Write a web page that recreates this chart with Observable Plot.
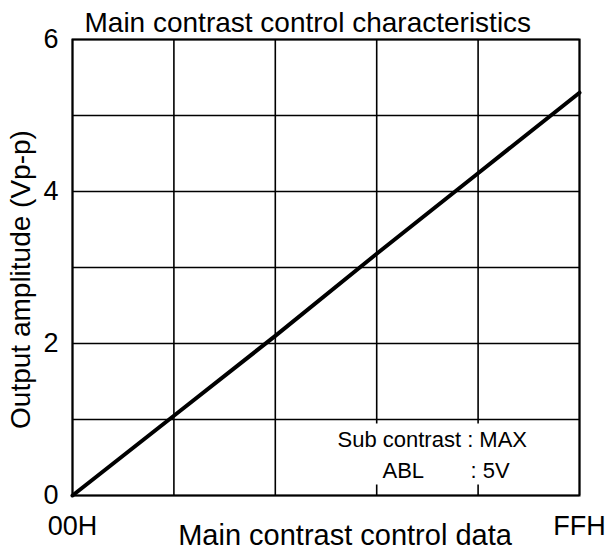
<!DOCTYPE html>
<html>
<head>
<meta charset="utf-8">
<script src="https://cdn.jsdelivr.net/npm/d3@7"></script>
<script src="https://cdn.jsdelivr.net/npm/@observablehq/plot@0.6"></script>
<style>
  html, body { margin: 0; padding: 0; background: white; }
</style>
</head>
<body>
<div id="chart"></div>
<script>
// ---- data ----
const controlData = [0, 51, 102, 153, 204, 255];          // 00H .. FFH
const outputAmplitude = [0, 1.05, 2.1, 3.18, 4.24, 5.3];  // Vp-p
const xGridValues = [0, 51, 102, 153, 204, 255];
const xTickValues = [0, 255];
const xTickLabels = ["00H", "FFH"];
const yGridValues = [0, 1, 2, 3, 4, 5, 6];
const yTickValues = [0, 2, 4, 6];
const titleText = "Main contrast control characteristics";
const xLabelText = "Main contrast control data";
const yLabelText = "Output amplitude (Vp-p)";
const noteLine1 = ["Sub contrast : MAX"];
const noteLine2Key = ["ABL"];
const noteLine2Value = [": 5V"];

const points = controlData.map((x, i) => ({x, y: outputAmplitude[i]}));

const FONT = 27;
const chart = Plot.plot({
  width: 612,
  height: 550,
  marginLeft: 72,
  marginRight: 33,
  marginTop: 39,
  marginBottom: 55,
  style: {fontFamily: "'Liberation Sans', Arial, sans-serif", fontSize: FONT + "px", background: "white", color: "black"},
  x: {domain: [0, 255]},
  y: {domain: [0, 6]},
  marks: [
    Plot.gridX(xGridValues, {stroke: "black", strokeOpacity: 1, strokeWidth: 1.6}),
    Plot.gridY(yGridValues, {stroke: "black", strokeOpacity: 1, strokeWidth: 1.6}),
    Plot.axisX({ticks: xTickValues, tickSize: 0, tickPadding: 20, fontSize: FONT,
      tickFormat: (d) => xTickLabels[xTickValues.indexOf(d)], label: null}),
    Plot.axisY({ticks: yTickValues, tickSize: 0, tickPadding: 14, fontSize: FONT,
      tickFormat: d3.format("d"), label: null}),
    // white box behind the annotation (inset of the frame)
    Plot.frame({fill: "white", stroke: null, insetLeft: 261, insetRight: 39, insetTop: 384, insetBottom: 11}),
    Plot.text(noteLine1, {frameAnchor: "bottom-left", text: (d) => d, textAnchor: "start",
      lineAnchor: "bottom", dx: 265, dy: -49, fontSize: 22, fill: "black"}),
    Plot.text(noteLine2Key, {frameAnchor: "bottom-left", text: (d) => d, textAnchor: "start",
      lineAnchor: "bottom", dx: 310, dy: -18, fontSize: 22, fill: "black"}),
    Plot.text(noteLine2Value, {frameAnchor: "bottom-left", text: (d) => d, textAnchor: "start",
      lineAnchor: "bottom", dx: 398, dy: -18, fontSize: 22, fill: "black"}),
    Plot.frame({stroke: "black", strokeWidth: 2}),
    Plot.line(points, {x: "x", y: "y", stroke: "black", strokeWidth: 4}),
    // title
    Plot.text([titleText], {frameAnchor: "top-left", text: (d) => d, textAnchor: "start",
      lineAnchor: "bottom", dx: 12, dy: -8, fontSize: 28, fill: "black"}),
    // x label
    Plot.text([xLabelText], {frameAnchor: "bottom", text: (d) => d, textAnchor: "middle",
      lineAnchor: "bottom", dx: 19, dy: 49, fontSize: 29, fill: "black"}),
    // y label
    Plot.text([yLabelText], {frameAnchor: "left", text: (d) => d, textAnchor: "middle",
      lineAnchor: "middle", rotate: -90, dx: -51, dy: 12, fontSize: 28, fill: "black"})
  ]
});
document.getElementById("chart").appendChild(chart);
</script>
</body>
</html>
